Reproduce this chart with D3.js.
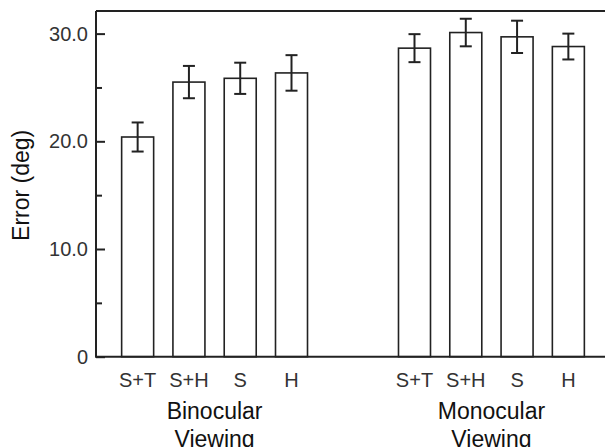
<!DOCTYPE html>
<html lang="en">
<head>
    <meta charset="UTF-8">
    <title>Error by viewing condition</title>
    <script src="https://d3js.org/d3.v7.min.js"></script>
    <style>
        body { margin: 0; background: #fff; }
        svg { display: block; font-family: "Liberation Sans", Arial, Helvetica, sans-serif; }
    </style>
</head>
<body>
    <svg width="605" height="447"></svg>
    <script>
// data
const groupNames = ["Binocular", "Monocular"];
const conditions = ["S+T", "S+H", "S", "H"];
const binocularMeans = [20.4, 25.5, 25.85, 26.35];
const binocularErrors = [1.35, 1.5, 1.45, 1.65];
const monocularMeans = [28.65, 30.1, 29.7, 28.8];
const monocularErrors = [1.3, 1.28, 1.5, 1.2];
const majorTicks = [0, 10, 20, 30];
const minorTicks = [5, 15, 25];

const rows = [];
groupNames.forEach(function(g, gi) {
    const means = gi === 0 ? binocularMeans : monocularMeans;
    const errs = gi === 0 ? binocularErrors : monocularErrors;
    conditions.forEach(function(c, i) {
        rows.push({group: g, cond: c, mean: means[i], err: errs[i]});
    });
});

const svg = d3.select("svg");
const ink = "#222";

const plotTop = 11, plotBottom = 356.7, plotLeft = 96;

const y = d3.scaleLinear()
    .domain([0, 32.1])
    .range([plotBottom, plotTop]);

const xGroup = d3.scaleBand()
    .domain(groupNames)
    .range([112, 594])
    .paddingInner(0.259)
    .paddingOuter(0);

const xCond = d3.scaleBand()
    .domain(conditions)
    .range([0, xGroup.bandwidth()])
    .paddingInner(0.376)
    .paddingOuter(0.188);

// bars
svg.append("g")
    .selectAll("rect")
    .data(rows)
    .enter().append("rect")
    .attr("x", d => xGroup(d.group) + xCond(d.cond))
    .attr("y", d => y(d.mean))
    .attr("width", xCond.bandwidth())
    .attr("height", d => y(0) - y(d.mean))
    .style("fill", "#fff")
    .style("stroke", ink)
    .style("stroke-width", 1.6);

// error bars
const eb = svg.append("g")
    .style("stroke", ink)
    .style("stroke-width", 2);

const cx = d => xGroup(d.group) + xCond(d.cond) + xCond.bandwidth() / 2;

eb.selectAll("line.v")
    .data(rows)
    .enter().append("line")
    .attr("class", "v")
    .attr("x1", cx).attr("x2", cx)
    .attr("y1", d => y(d.mean + d.err))
    .attr("y2", d => y(d.mean - d.err));

eb.selectAll("line.hi")
    .data(rows)
    .enter().append("line")
    .attr("class", "hi")
    .attr("x1", d => cx(d) - 6).attr("x2", d => cx(d) + 6)
    .attr("y1", d => y(d.mean + d.err))
    .attr("y2", d => y(d.mean + d.err));

eb.selectAll("line.lo")
    .data(rows)
    .enter().append("line")
    .attr("class", "lo")
    .attr("x1", d => cx(d) - 6).attr("x2", d => cx(d) + 6)
    .attr("y1", d => y(d.mean - d.err))
    .attr("y2", d => y(d.mean - d.err));

// y axis, ticks pointing inward
const yAxis = svg.append("g")
    .attr("transform", "translate(" + plotLeft + ",0)")
    .call(d3.axisLeft(y)
        .tickValues(majorTicks)
        .tickSize(-9)
        .tickPadding(8)
        .tickFormat(d => d === 0 ? "0" : d3.format(".1f")(d)));
yAxis.select(".domain").remove();
yAxis.selectAll("line").style("stroke", ink).style("stroke-width", 2);
yAxis.selectAll("text")
    .style("font-size", "20px")
    .style("fill", "#333")
    .style("font-family", "'Liberation Sans', Arial, sans-serif");

const yMinor = svg.append("g")
    .attr("transform", "translate(" + plotLeft + ",0)")
    .call(d3.axisLeft(y).tickValues(minorTicks).tickSize(-6).tickFormat(""));
yMinor.select(".domain").remove();
yMinor.selectAll("line").style("stroke", ink).style("stroke-width", 2);

// frame: left, top, bottom (right side runs off the picture)
const frame = svg.append("g").style("stroke", ink).style("stroke-width", 2);
frame.append("line").attr("x1", plotLeft).attr("x2", plotLeft).attr("y1", plotTop).attr("y2", plotBottom);
frame.append("line").attr("x1", plotLeft).attr("x2", 620).attr("y1", plotTop).attr("y2", plotTop);
frame.append("line").attr("x1", plotLeft - 1).attr("x2", 620).attr("y1", plotBottom).attr("y2", plotBottom);

// condition labels
svg.append("g")
    .selectAll("text")
    .data(rows)
    .enter().append("text")
    .attr("x", cx)
    .attr("y", 387)
    .attr("text-anchor", "middle")
    .style("font-size", "20px")
    .style("fill", "#333")
    .text(d => d.cond);

// group labels
const gl = svg.append("g")
    .selectAll("text")
    .data(groupNames)
    .enter().append("text")
    .attr("text-anchor", "middle")
    .style("font-size", "23px")
    .style("fill", "#111");
gl.append("tspan")
    .attr("x", d => xGroup(d) + xGroup.bandwidth() / 2)
    .attr("y", 418.5)
    .text(d => d);
gl.append("tspan")
    .attr("x", d => xGroup(d) + xGroup.bandwidth() / 2)
    .attr("y", 447)
    .text("Viewing");

// y title
svg.append("text")
    .attr("transform", "translate(29," + ((plotTop + plotBottom) / 2 + 1.5) + ") rotate(-90)")
    .attr("text-anchor", "middle")
    .style("font-size", "23px")
    .style("fill", "#111")
    .text("Error (deg)");
    </script>
</body>
</html>
